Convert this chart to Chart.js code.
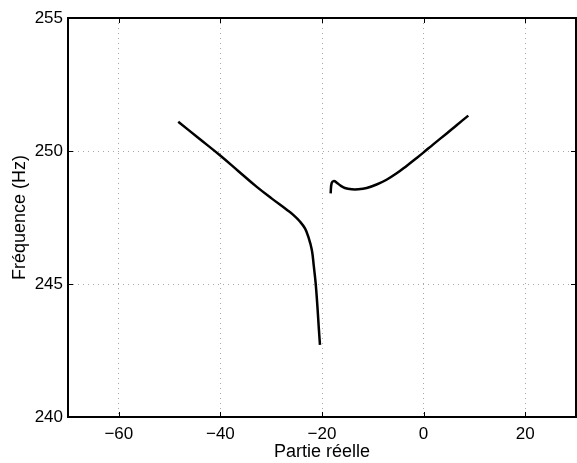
<!DOCTYPE html>
<html>
<head>
<meta charset="utf-8">
<script src="https://cdn.jsdelivr.net/npm/chart.js@4.4.0/dist/chart.umd.min.js"></script>
<style>
  html, body { margin: 0; padding: 0; background: #fff; }
  #wrap { width: 577px; height: 463px; }
</style>
</head>
<body>
<div id="wrap"><canvas id="locus"></canvas></div>
<script>
// branche gauche (descend vers -20)
const leftX = [-48.3, -44.2, -40.1, -36.5, -32.9, -29.8, -27.0, -25.6, -24.3, -23.35, -22.7, -22.0, -21.6, -21.25, -20.9, -20.65, -20.4];
const leftY = [251.1, 250.47, 249.84, 249.25, 248.66, 248.2, 247.8, 247.59, 247.34, 247.09, 246.78, 246.28, 245.65, 245.03, 244.15, 243.4, 242.71];
// branche droite
const rightX = [-18.3, -18.1, -17.65, -17.1, -16.45, -15.5, -14.15, -12.85, -11.2, -9.25, -7.3, -5.3, -3.35, -1.35, -0.05, 1.9, 4.55, 6.5, 8.8];
const rightY = [248.41, 248.79, 248.87, 248.81, 248.71, 248.61, 248.56, 248.56, 248.61, 248.74, 248.92, 249.16, 249.44, 249.74, 249.94, 250.25, 250.66, 250.97, 251.33];

const xTicks = [-60, -40, -20, 0, 20];
const yTicks = [240, 245, 250, 255];

const toPts = (xs, ys) => xs.map((x, i) => ({ x: x, y: ys[i] }));
const fontFam = "'Liberation Sans', Arial, Helvetica, sans-serif";

const frame = {
	id: "frame",
	afterDraw(chart) {
		const c = chart.ctx;
		const a = chart.chartArea;
		const sx = chart.scales.x;
		const sy = chart.scales.y;
		c.save();
		c.strokeStyle = "#000";
		c.lineWidth = 1;
		c.beginPath();
		xTicks.forEach((v) => {
			const p = Math.round(sx.getPixelForValue(v)) + 0.5;
			c.moveTo(p, a.bottom); c.lineTo(p, a.bottom - 5);
			c.moveTo(p, a.top); c.lineTo(p, a.top + 5);
		});
		yTicks.forEach((v) => {
			const p = Math.round(sy.getPixelForValue(v)) + 0.5;
			c.moveTo(a.left, p); c.lineTo(a.left + 5, p);
			c.moveTo(a.right, p); c.lineTo(a.right - 5, p);
		});
		c.stroke();
		c.lineWidth = 2;
		c.strokeRect(a.left, a.top, a.right - a.left, a.bottom - a.top);
		c.restore();
	},
};

const lineSet = (label, xs, ys) => ({
	label: label,
	data: toPts(xs, ys),
	showLine: true,
	borderColor: "#000",
	borderWidth: 2.5,
	pointRadius: 0,
	tension: 0.4,
});

const ctx = document.getElementById("locus").getContext("2d");
const locusChart = new Chart(ctx, {
	type: "scatter",
	data: {
		datasets: [lineSet("gauche", leftX, leftY), lineSet("droite", rightX, rightY)],
	},
	options: {
		responsive: true,
		maintainAspectRatio: false,
		animation: false,
		layout: {
			padding: { left: 0, right: 1, top: 18, bottom: 0 },
		},
		scales: {
			x: {
				type: "linear",
				min: -70,
				max: 30,
				afterBuildTicks: (s) => { s.ticks = xTicks.map((v) => ({ value: v })); },
				afterFit: (s) => { s.height = 46; },
				border: { display: false, dash: [1, 4] },
				grid: { color: "#a8a8a8", drawTicks: false },
				ticks: {
					color: "#000",
					font: { family: fontFam, size: 17 },
					padding: 7,
					maxRotation: 0,
					callback: (v) => String(v).replace("-", "\u2212"),
				},
				title: {
					display: true,
					text: "Partie réelle",
					color: "#000",
					font: { family: fontFam, size: 18 },
					padding: { top: 0, bottom: 0 },
				},
			},
			y: {
				type: "linear",
				min: 240,
				max: 255,
				afterBuildTicks: (s) => { s.ticks = yTicks.map((v) => ({ value: v })); },
				afterFit: (s) => { s.width = 68; },
				border: { display: false, dash: [1, 4] },
				grid: { color: "#a8a8a8", drawTicks: false },
				ticks: {
					color: "#000",
					font: { family: fontFam, size: 17 },
					padding: 5,
				},
				title: {
					display: true,
					text: "Fréquence (Hz)",
					color: "#000",
					font: { family: fontFam, size: 18 },
					padding: { top: 9, bottom: 0 },
				},
			},
		},
		plugins: {
			legend: { display: false },
			tooltip: { enabled: false },
		},
	},
	plugins: [frame],
});
</script>
</body>
</html>
